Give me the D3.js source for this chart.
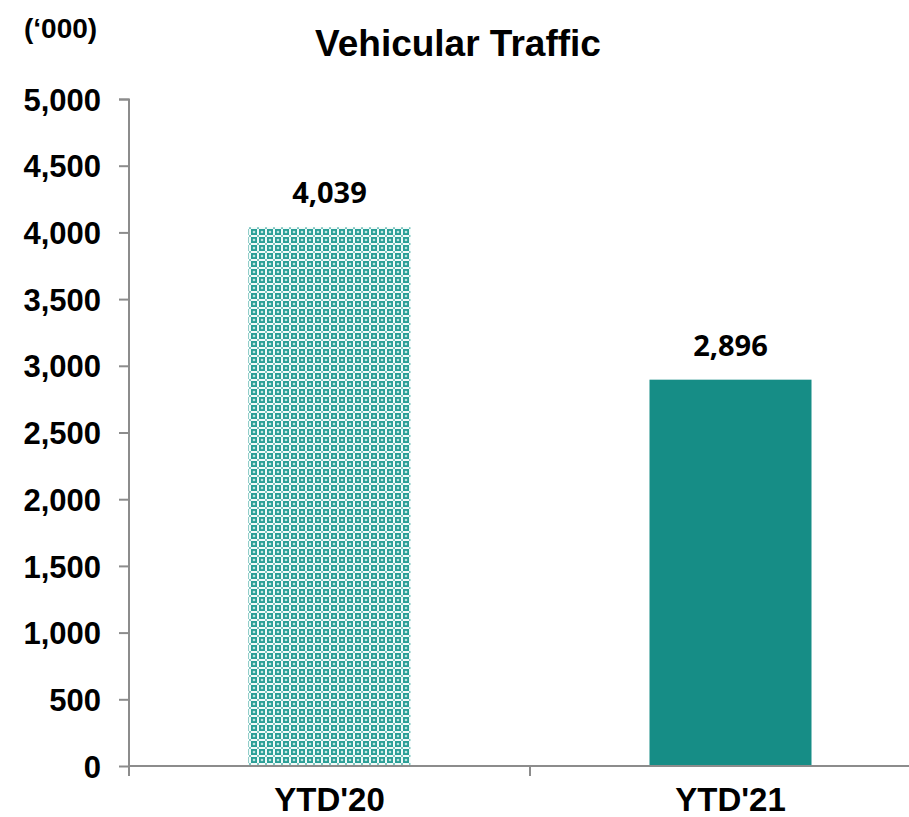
<!DOCTYPE html>
<html>
<head>
<meta charset="utf-8">
<script src="https://cdn.jsdelivr.net/npm/d3@7"></script>
<style>
  body { margin: 0; background: #fff; }
  text { font-family: "Liberation Sans", Arial, sans-serif; font-weight: bold; fill: #000; }
</style>
</head>
<body>
<div id="chart"></div>
<script>
// data
var categories = ["YTD'20", "YTD'21"];
var traffic = [4039, 2896];
var valueLabels = ["4,039", "2,896"];
var yTicks = [0, 500, 1000, 1500, 2000, 2500, 3000, 3500, 4000, 4500, 5000];

var svgWidth = 909, svgHeight = 817;
var margin = { top: 99, right: -22, bottom: 51, left: 129 };
var width = svgWidth - margin.left - margin.right;
var height = svgHeight - margin.top - margin.bottom;

var svg = d3.select("#chart").append("svg")
  .attr("width", svgWidth)
  .attr("height", svgHeight);

// dotted/trellis pattern for the first bar
var defs = svg.append("defs");
var pat = defs.append("pattern")
  .attr("id", "confetti")
  .attr("patternUnits", "userSpaceOnUse")
  .attr("width", 8).attr("height", 8);
pat.append("rect").attr("width", 8).attr("height", 8).attr("fill", "#2a9f97");
pat.append("rect").attr("x", 0).attr("y", 0).attr("width", 8).attr("height", 2).attr("fill", "#f2faf9");
pat.append("rect").attr("x", 0).attr("y", 0).attr("width", 2).attr("height", 8).attr("fill", "#f2faf9");
pat.append("circle").attr("cx", 5).attr("cy", 5).attr("r", 1.3).attr("fill", "#bfe4e1");
pat.append("rect").attr("x", 0).attr("y", 0).attr("width", 2).attr("height", 2).attr("fill", "#7cc5bf");

var g = svg.append("g").attr("transform", `translate(${margin.left}, ${margin.top})`);

var x = d3.scaleBand().domain(categories).range([0, width]).paddingInner(0).paddingOuter(0);
var y = d3.scaleLinear().domain([0, 5000]).range([height, 0]);

// bars
var barW = x.bandwidth() * 0.404;
g.selectAll("rect.bar")
  .data(traffic)
  .enter()
  .append("rect")
  .attr("class", "bar")
  .attr("x", (d, i) => x(categories[i]) + x.bandwidth() / 2 - barW / 2)
  .attr("y", d => y(d))
  .attr("width", barW)
  .attr("height", d => height - y(d))
  .attr("fill", (d, i) => i === 0 ? "url(#confetti)" : "#168d86");

// value labels
g.selectAll("text.val")
  .data(traffic)
  .enter()
  .append("text")
  .attr("class", "val")
  .attr("x", (d, i) => x(categories[i]) + x.bandwidth() / 2)
  .attr("y", d => y(d) - 24)
  .attr("text-anchor", "middle")
  .style("font-family", "'Open Sans', sans-serif")
  .attr("font-size", 29)
  .text((d, i) => valueLabels[i]);

// y axis
var leftAxis = d3.axisLeft(y).tickValues(yTicks).tickFormat(d3.format(",")).tickSize(10).tickPadding(18);
var yg = g.append("g").call(leftAxis);
yg.selectAll("path, line").attr("stroke", "#8c8c8c").attr("stroke-width", 2);
yg.select("path").attr("d", `M-10,0.5H0V${height}`);
yg.selectAll("text").attr("font-size", 31).attr("dy", "0.36em")
  .style("font-family", "'Liberation Sans', Arial, sans-serif");

// x axis
var xg = g.append("g").attr("transform", `translate(0, ${height})`);
xg.append("line").attr("x1", 0).attr("x2", width).attr("y1", 0).attr("y2", 0)
  .attr("stroke", "#8c8c8c").attr("stroke-width", 2);
xg.selectAll("line.tick")
  .data([0, x.bandwidth()])
  .enter()
  .append("line")
  .attr("class", "tick")
  .attr("x1", d => d).attr("x2", d => d)
  .attr("y1", 0).attr("y2", 10)
  .attr("stroke", "#8c8c8c").attr("stroke-width", 2);
xg.selectAll("text")
  .data(categories)
  .enter()
  .append("text")
  .attr("x", d => x(d) + x.bandwidth() / 2)
  .attr("y", 45)
  .attr("text-anchor", "middle")
  .attr("font-size", 33)
  .text(d => d);

// title and unit
svg.append("text")
  .attr("x", 458).attr("y", 56)
  .attr("text-anchor", "middle")
  .attr("font-size", 37)
  .text("Vehicular Traffic");

svg.append("text")
  .attr("x", 24).attr("y", 38)
  .attr("font-size", 28)
  .text("(\u2018000)");
</script>
</body>
</html>
